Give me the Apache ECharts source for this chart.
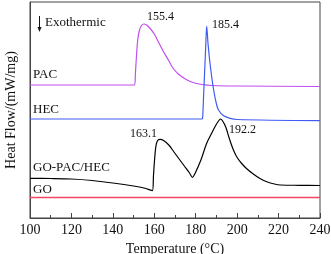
<!DOCTYPE html>
<html><head><meta charset="utf-8">
<script src="https://cdn.jsdelivr.net/npm/echarts@6/dist/echarts.min.js"></script>
<style>html,body{margin:0;padding:0;background:#fff}#c{width:331px;height:254px}</style>
</head><body><div id="c"></div>
<script>
// Temperature (°C) and heat flow (arbitrary offset units)
const pacT = [100,140,149.5,150.5,150.9,151.4,152.0,152.8,153.8,155.0,156.3,157.8,160,162,164,166.8,169,171.6,175,178,183,188,200,240];
const pacY = [133,133,133,133,145,162,178,187.5,192.5,194,193,190,184,176,168,158,150,144,139,136,133.5,132.5,132,131.5];

const hecT = [100,150,182.8,183.3,183.8,184.3,184.8,185.3,186,187,188.5,190,191,193.3,196.6,200,240];
const hecY = [99,99,99,99.5,122,146,170,192,173,153,130,114,108,102.5,99.7,98.5,97.3];

const mixT = [100,110,120,130,140,150,155,159.1,159.6,160.2,160.8,161.6,162.8,164.5,167,169.5,172,174.5,177,178.4,180,182.5,185.3,187.5,189.3,191,192,193,194.5,196.3,198.2,200,202,204.5,207.8,211,214.3,218,221,230,240];
const mixY = [39.7,39.5,39,37.5,35,32,30,27.3,42,60,72,77.5,78.7,77.5,73,66,59,52,45,40.7,46,58,74.7,84,91.3,97,99,97,91,79,68,60.5,55,49.5,44,39.5,36.3,34,33,32.7,32.5];

const goT = [100,140,180,240];
const goY = [20.5,20.5,20.5,20.5];

const xTicks = [100,120,140,160,180,200,220,240];

const names = ['PAC','HEC','GO-PAC/HEC','GO'];
const colors = ['#c04ff0','#3e5cf5','#000000','#f5455f'];
const peakLabels = ['155.4','185.4','163.1','192.2'];

function pairs(t,y){return t.map((v,i)=>[v,y[i]]);}
const serif = "'Liberation Serif','Times New Roman',serif";

const chart = echarts.init(document.getElementById('c'),null,{renderer:'canvas'});
const data = [pairs(pacT,pacY),pairs(hecT,hecY),pairs(mixT,mixY),pairs(goT,goY)];
chart.setOption({
  animation:false,
  backgroundColor:'#fff',
  grid:{left:30,top:2,right:11,bottom:36,outerBoundsMode:'none',containLabel:false,show:true,borderColor:'#444',borderWidth:1,backgroundColor:'transparent'},
  xAxis:{type:'value',min:xTicks[0],max:xTicks[xTicks.length-1],interval:20,
    name:'Temperature (°C)',nameLocation:'middle',nameGap:20,
    nameTextStyle:{fontFamily:serif,fontSize:14,color:'#111'},
    axisLine:{lineStyle:{color:'#444',width:1}},
    axisTick:{inside:true,length:5,lineStyle:{color:'#444'}},
    minorTick:{show:true,splitNumber:2,length:3,lineStyle:{color:'#444'}},
    axisLabel:{fontFamily:serif,fontSize:14,color:'#111',margin:5},
    splitLine:{show:false}},
  yAxis:{type:'value',min:0,max:216,
    name:'Heat Flow/(mW/mg)',nameLocation:'middle',nameGap:12,
    nameTextStyle:{fontFamily:serif,fontSize:14,color:'#111'},
    axisLine:{show:true,lineStyle:{color:'#444'}},axisTick:{show:false},axisLabel:{show:false},splitLine:{show:false}},
  series:data.map((d,i)=>({type:'line',name:names[i],data:d,showSymbol:false,smooth:0.3,z:i===3?5:2,
    lineStyle:{color:colors[i],width:i===3?1.3:1.2,opacity:1},itemStyle:{color:colors[i]}})),
  graphic:[
    {type:'text',left:33,top:68,style:{text:'PAC',font:'13px '+serif,fill:'#111'}},
    {type:'text',left:33,top:103,style:{text:'HEC',font:'13px '+serif,fill:'#111'}},
    {type:'text',left:33,top:161,style:{text:'GO-PAC/HEC',font:'13px '+serif,fill:'#111'}},
    {type:'text',left:33,top:183,style:{text:'GO',font:'13px '+serif,fill:'#111'}},
    {type:'text',left:45,top:16,style:{text:'Exothermic',font:'13px '+serif,fill:'#111'}},
    {type:'line',shape:{x1:39.5,y1:16,x2:39.5,y2:29},style:{stroke:'#111',lineWidth:1}},
    {type:'polygon',shape:{points:[[37.5,27],[41.5,27],[39.5,32]]},style:{fill:'#111'}},
    {type:'text',left:147,top:11,style:{text:peakLabels[0],font:'12px '+serif,fill:'#111'}},
    {type:'text',left:212,top:19,style:{text:peakLabels[1],font:'12px '+serif,fill:'#111'}},
    {type:'text',left:130,top:128,style:{text:peakLabels[2],font:'12px '+serif,fill:'#111'}},
    {type:'text',left:229,top:124,style:{text:peakLabels[3],font:'12px '+serif,fill:'#111'}}
  ]
});
</script></body></html>
